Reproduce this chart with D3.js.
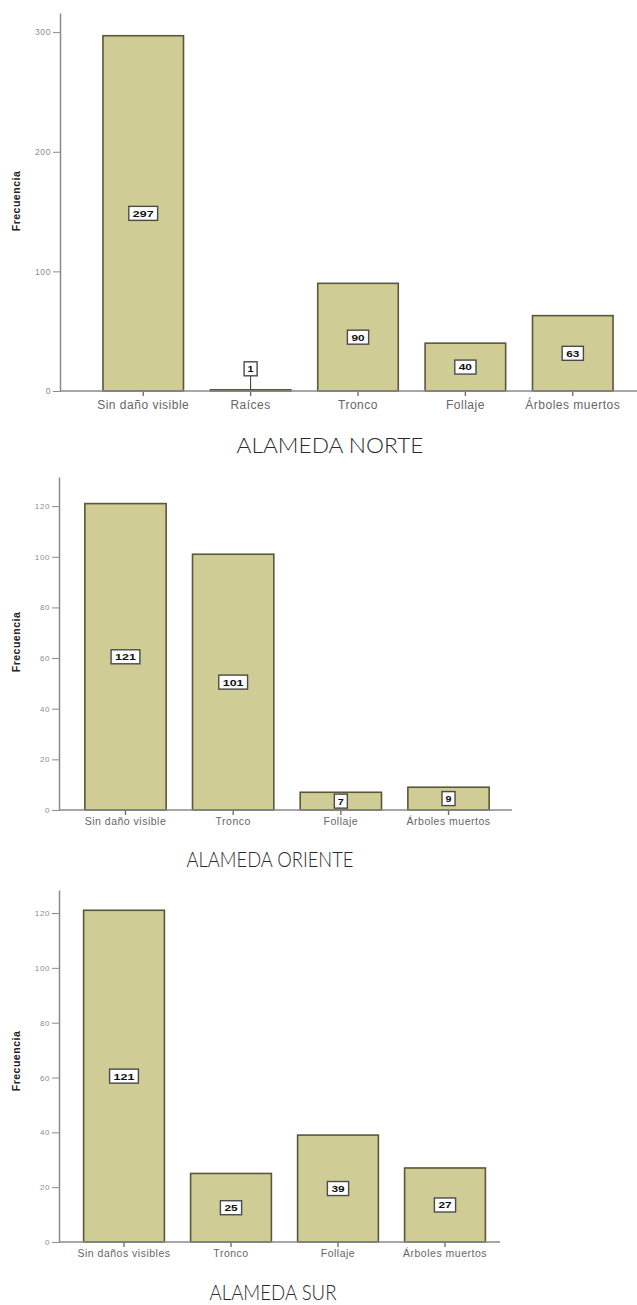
<!DOCTYPE html>
<html lang="es">
<head>
<meta charset="utf-8">
<title>Daños del arbolado por alameda</title>
<script src="https://cdn.jsdelivr.net/npm/d3@7"></script>
<style>
  html, body { margin: 0; padding: 0; background: #fff; }
  svg { display: block; }
</style>
</head>
<body>
<svg id="fig" width="637" height="1305"></svg>
<script>
// Frecuencia de árboles por tipo de daño, una gráfica por alameda
const norteCategorias = ["Sin daño visible", "Raíces", "Tronco", "Follaje", "Árboles muertos"];
const norteValores = [297, 1, 90, 40, 63];
const norteTicks = [0, 100, 200, 300];

const orienteCategorias = ["Sin daño visible", "Tronco", "Follaje", "Árboles muertos"];
const orienteValores = [121, 101, 7, 9];
const orienteTicks = [0, 20, 40, 60, 80, 100, 120];

const surCategorias = ["Sin daños visibles", "Tronco", "Follaje", "Árboles muertos"];
const surValores = [121, 25, 39, 27];
const surTicks = [0, 20, 40, 60, 80, 100, 120];

const titulos = ["ALAMEDA NORTE", "ALAMEDA ORIENTE", "ALAMEDA SUR"];

const svg = d3.select("#fig");

const BAR_FILL = "#d0cc95";
const BAR_STROKE = "#5a573a";
const AXIS = "#8a8a8a";
const SANS = "Arial, 'Liberation Sans', sans-serif";

function drawPanel(cfg) {
  const g = svg.append("g");

  const x = d3.scaleBand()
    .domain(cfg.categorias)
    .range(cfg.xRange)
    .paddingInner(cfg.padInner)
    .paddingOuter(cfg.padOuter);

  const y = d3.scaleLinear()
    .domain([0, cfg.yMax])
    .range([cfg.y0, cfg.yTop]);

  // Eje Y
  const yAxis = d3.axisLeft(y)
    .tickValues(cfg.ticks)
    .tickSize(7)
    .tickPadding(2)
    .tickSizeOuter(0);
  const ya = g.append("g")
    .attr("transform", `translate(${cfg.axisX},0)`)
    .call(yAxis);
  ya.select(".domain").attr("stroke", AXIS).attr("stroke-width", 1.5);
  ya.selectAll(".tick line").attr("stroke", AXIS).attr("stroke-width", 1);
  ya.selectAll(".tick text")
    .attr("fill", "#8c8c8c")
    .attr("font-family", SANS)
    .attr("font-size", cfg.tickFont)
    .attr("letter-spacing", 0.6);

  // Título del eje Y
  g.append("text")
    .attr("transform", `translate(20,${cfg.yLabelY}) rotate(-90)`)
    .attr("text-anchor", "middle")
    .attr("font-family", SANS)
    .attr("font-weight", "bold")
    .attr("font-size", 10.5)
    .attr("letter-spacing", 0.5)
    .attr("fill", "#222")
    .text("Frecuencia");

  // Barras
  const datos = cfg.categorias.map((c, i) => ({ c, v: cfg.valores[i] }));
  g.selectAll("rect.bar")
    .data(datos)
    .join("rect")
    .attr("class", "bar")
    .attr("x", d => x(d.c))
    .attr("width", x.bandwidth())
    .attr("y", d => y(d.v))
    .attr("height", d => y(0) - y(d.v))
    .attr("fill", BAR_FILL)
    .attr("stroke", BAR_STROKE)
    .attr("stroke-width", 1.6);

  // Eje X
  const xAxis = d3.axisBottom(x).tickSize(5).tickPadding(cfg.catPad).tickSizeOuter(0);
  const xa = g.append("g")
    .attr("transform", `translate(0,${cfg.y0})`)
    .call(xAxis);
  xa.select(".domain").remove();
  xa.selectAll(".tick line").attr("stroke", "#666").attr("stroke-width", 1.3);
  xa.selectAll(".tick text")
    .attr("fill", "#666")
    .attr("font-family", SANS)
    .attr("font-size", cfg.catFont)
    .attr("letter-spacing", 0.5);
  g.append("line")
    .attr("x1", cfg.axisX).attr("x2", cfg.baseEnd)
    .attr("y1", cfg.y0).attr("y2", cfg.y0)
    .attr("stroke", AXIS).attr("stroke-width", 1.5);

  // Etiquetas de valor en recuadro
  const lab = g.selectAll("g.val")
    .data(datos)
    .join("g")
    .attr("class", "val");
  lab.each(function (d) {
    const sel = d3.select(this);
    const cx = x(d.c) + x.bandwidth() / 2;
    const barH = y(0) - y(d.v);
    const small = barH < 4;
    const cy = small ? y(d.v) - 21 : y(d.v / 2);
    const txt = String(d.v);
    const tw = txt.length * 7.6;
    const w = txt.length === 1 ? 13 : tw + 6;
    const h = 14;
    if (small) {
      sel.append("line")
        .attr("x1", cx).attr("x2", cx)
        .attr("y1", cy + h / 2).attr("y2", y(d.v))
        .attr("stroke", "#333").attr("stroke-width", 1);
    }
    sel.append("rect")
      .attr("x", cx - w / 2).attr("y", cy - h / 2)
      .attr("width", w).attr("height", h)
      .attr("fill", "#fff")
      .attr("stroke", "#4a4a4a")
      .attr("stroke-width", 1.4);
    sel.append("text")
      .attr("x", cx).attr("y", cy)
      .attr("dy", "0.36em")
      .attr("text-anchor", "middle")
      .attr("font-family", SANS)
      .attr("font-weight", "bold")
      .attr("font-size", 9.5)
      .attr("textLength", txt.length === 1 ? 6 : tw - 2)
      .attr("lengthAdjust", "spacingAndGlyphs")
      .attr("fill", "#111")
      .text(txt);
  });

  // Título de la alameda
  g.append("text")
    .attr("x", cfg.titleX)
    .attr("y", cfg.titleY)
    .attr("text-anchor", "middle")
    .attr("font-family", "Lato, 'Open Sans', sans-serif")
    .attr("font-weight", 300)
    .attr("font-size", 21)
    .attr("textLength", cfg.titleW)
    .attr("lengthAdjust", "spacingAndGlyphs")
    .attr("fill", "#2a2a2a")
    .text(cfg.titulo);
}

drawPanel({
  categorias: norteCategorias, valores: norteValores, ticks: norteTicks,
  yMax: 316, y0: 391, yTop: 13, axisX: 60,
  xRange: [60, 656], padInner: 0.25, padOuter: 0.4, baseEnd: 637,
  tickFont: 8.5, catFont: 12, catPad: 4,
  yLabelY: 201, titulo: titulos[0], titleX: 330, titleY: 453, titleW: 187
});

drawPanel({
  categorias: orienteCategorias, valores: orienteValores, ticks: orienteTicks,
  yMax: 131.5, y0: 810, yTop: 477, axisX: 59,
  xRange: [59, 515], padInner: 0.245, padOuter: 0.24, baseEnd: 512,
  tickFont: 8, catFont: 10.5, catPad: 3,
  yLabelY: 642, titulo: titulos[1], titleX: 270, titleY: 867, titleW: 167
});

drawPanel({
  categorias: surCategorias, valores: surValores, ticks: surTicks,
  yMax: 128.4, y0: 1242, yTop: 890, axisX: 59,
  xRange: [59, 510], padInner: 0.245, padOuter: 0.23, baseEnd: 500,
  tickFont: 8, catFont: 10.5, catPad: 3,
  yLabelY: 1061, titulo: titulos[2], titleX: 273, titleY: 1300, titleW: 127
});
</script>
</body>
</html>
